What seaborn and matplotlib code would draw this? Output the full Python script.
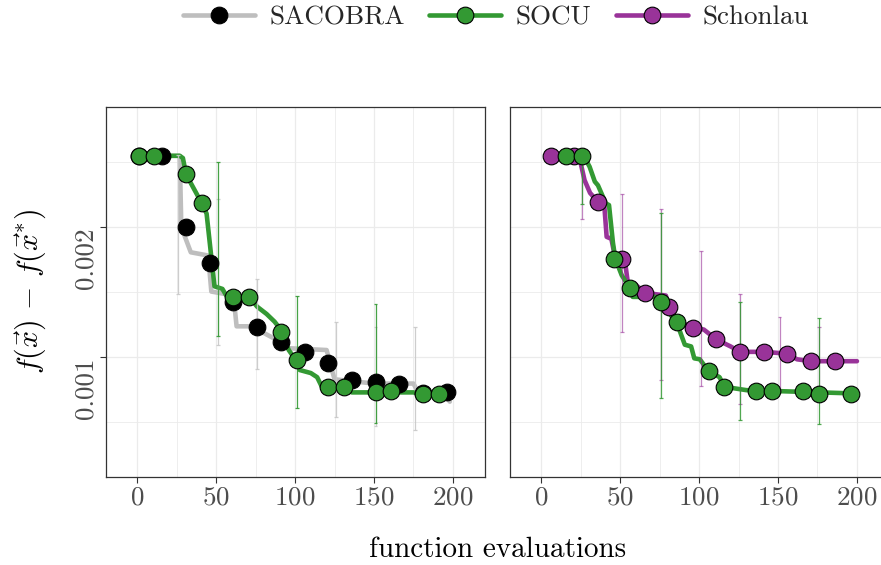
import numpy as np
import pandas as pd
import seaborn as sns
import matplotlib
matplotlib.use("Agg")
import matplotlib.pyplot as plt
from matplotlib.lines import Line2D
from matplotlib.ticker import FixedLocator, FixedFormatter, NullFormatter

# ---------------- data ----------------
# median progress curves (function evaluations vs. f(x) - f(x*))
sacobra_curve_x = [1, 27, 28, 34, 45, 47, 61, 63, 77, 80, 88, 96, 120, 125, 150, 175, 178, 195, 198]
sacobra_curve_y = [0.002925, 0.002925, 0.00200, 0.00175, 0.00172, 0.00142, 0.00139, 0.00118, 0.00118,
                   0.00114, 0.00110, 0.00105, 0.00104, 0.00089, 0.00087, 0.00087, 0.00083, 0.00082, 0.00079]

socu_curve_left_x = [1, 27, 29, 31, 34, 41, 44, 49, 54, 57, 71, 76, 82, 87, 91, 96, 101, 103, 110, 114,
                     117, 133, 136, 175, 178, 200]
socu_curve_left_y = [0.002925, 0.002925, 0.00289, 0.00265, 0.00253, 0.00227, 0.00215, 0.00146, 0.00144,
                     0.00138, 0.00138, 0.00131, 0.00126, 0.00121, 0.00116, 0.00104, 0.00098, 0.000935,
                     0.00092, 0.00090, 0.000855, 0.000855, 0.00083, 0.00083, 0.000825, 0.000825]

socu_curve_right_x = [16, 27, 30.7, 34, 36, 41, 43, 45.5, 47, 51, 56, 58, 73, 76, 86, 89, 91, 95, 97,
                      100.5, 106, 113, 116, 130, 200]
socu_curve_right_y = [0.002925, 0.002925, 0.00276, 0.00255, 0.00250, 0.00227, 0.00225, 0.00184, 0.00169,
                      0.00155, 0.00145, 0.00138, 0.00138, 0.00134, 0.00120, 0.00112, 0.00107, 0.00106,
                      0.000995, 0.00099, 0.00093, 0.00090, 0.000855, 0.00084, 0.000825]

schonlau_curve_x = [6, 24, 27.5, 31, 36, 40, 41.5, 44.5, 47, 53, 55, 60, 66, 79, 81, 86, 96, 103, 111,
                    120, 126, 141, 156, 162, 171, 200]
schonlau_curve_y = [0.002925, 0.002925, 0.00257, 0.00240, 0.00229, 0.00225, 0.00190, 0.00188, 0.00169,
                    0.00168, 0.00148, 0.00147, 0.00141, 0.00139, 0.00131, 0.00122, 0.00117, 0.00116,
                    0.00110, 0.00106, 0.00103, 0.00103, 0.00102, 0.00099, 0.00098, 0.00098]

# markers placed along the curves
sacobra_pts_x = [1, 16, 31, 46, 61, 76, 91, 106, 121, 136, 151, 166, 181, 196]
sacobra_pts_y = [0.002925, 0.002925, 0.00200, 0.001656, 0.001345, 0.001173, 0.001083, 0.00103,
                 0.000972, 0.000885, 0.000877, 0.00087, 0.000828, 0.000832]

socu_pts_left_x = [1, 11, 31, 41, 61, 71, 91, 101, 121, 131, 151, 161, 181, 191]
socu_pts_left_y = [0.002925, 0.002925, 0.002653, 0.002273, 0.001379, 0.001379, 0.001143, 0.000984,
                   0.000853, 0.000853, 0.000832, 0.000836, 0.000825, 0.000825]

socu_pts_right_x = [16, 26, 46, 56, 76, 86, 106, 116, 136, 146, 166, 176, 196]
socu_pts_right_y = [0.002925, 0.002925, 0.001686, 0.001449, 0.001341, 0.001205, 0.000931, 0.000855,
                    0.000834, 0.000834, 0.000834, 0.000825, 0.000825]

schonlau_pts_x = [6, 21, 36, 51, 66, 81, 96, 111, 126, 141, 156, 171, 186]
schonlau_pts_y = [0.002925, 0.002925, 0.002293, 0.001686, 0.001411, 0.00131, 0.001167, 0.001101,
                  0.00103, 0.001027, 0.001016, 0.000982, 0.000982]

# quartile ranges
sacobra_err_x = [26, 51, 76, 126, 151, 176]
sacobra_err_lo = [0.00140, 0.001066, 0.000938, 0.000727, 0.000693, 0.000678]
sacobra_err_hi = [0.00294, 0.002323, 0.001518, 0.001205, 0.001177, 0.001177]

socu_err_left_x = [51, 101, 151]
socu_err_left_lo = [0.001122, 0.000763, 0.000707]
socu_err_left_hi = [0.002829, 0.001389, 0.001331]

socu_err_right_x = [26, 76, 126, 176]
socu_err_right_lo = [0.002262, 0.000804, 0.000716, 0.000703]
socu_err_right_hi = [0.00286, 0.002155, 0.001343, 0.001235]

schonlau_err_x = [26, 51, 76, 101, 126, 151, 176]
schonlau_err_lo = [0.002092, 0.001144, 0.000886, 0.000861, 0.00078, 0.00084, 0.00085]
schonlau_err_hi = [0.00290, 0.002393, 0.002208, 0.001759, 0.001399, 0.001238, 0.001173]

series_names = ["SACOBRA", "SOCU", "Schonlau"]
x_ticks = [0, 50, 100, 150, 200]
y_ticks = [0.001, 0.002]
y_tick_labels = ["0.001", "0.002"]

# ---------------- style ----------------
sns.set_theme(style="white")
plt.rcParams["font.family"] = ["cmr10", "DejaVu Serif"]
plt.rcParams["mathtext.fontset"] = "cm"
plt.rcParams["axes.unicode_minus"] = False
plt.rcParams["axes.formatter.use_mathtext"] = True

GRAY_LINE = "#bebebe"
GREEN = "#339933"
PURPLE = "#993399"
TICK_TXT = "#4d4d4d"
GRID = "#ebebeb"

fig = plt.figure(figsize=(8.81, 5.65), dpi=100)
W, H = 881, 565
ax_l = fig.add_axes([106 / W, (H - 477) / H, 379 / W, 370 / H])
ax_r = fig.add_axes([510 / W, (H - 477) / H, 379 / W, 370 / H])

LW = 3.3
MS = 12


def draw_curve(ax, xs, ys, color):
    df = pd.DataFrame({"x": xs, "y": ys})
    sns.lineplot(data=df, x="x", y="y", ax=ax, color=color, lw=LW, sort=False,
                 estimator=None, zorder=2, legend=False)


def draw_points(ax, xs, ys, face):
    df = pd.DataFrame({"x": xs, "y": ys})
    sns.scatterplot(data=df, x="x", y="y", ax=ax, color=face, s=MS ** 2,
                    edgecolor="black", linewidth=0.8, zorder=4, legend=False)


def draw_err(ax, xs, lo, hi, color, alpha):
    xs = np.asarray(xs, float)
    lo = np.asarray(lo, float)
    hi = np.asarray(hi, float)
    ax.vlines(xs, lo, hi, color=color, lw=0.9, alpha=alpha, zorder=3)
    for yy in (lo, hi):
        ax.hlines(yy, xs - 1.2, xs + 1.2, color=color, lw=0.9, alpha=alpha, zorder=3)


# left panel: SACOBRA vs SOCU
draw_curve(ax_l, sacobra_curve_x, sacobra_curve_y, GRAY_LINE)
draw_curve(ax_l, socu_curve_left_x, socu_curve_left_y, GREEN)
draw_err(ax_l, sacobra_err_x, sacobra_err_lo, sacobra_err_hi, "#c8c8c8", 0.9)
draw_err(ax_l, socu_err_left_x, socu_err_left_lo, socu_err_left_hi, GREEN, 0.9)
draw_points(ax_l, sacobra_pts_x, sacobra_pts_y, "black")
draw_points(ax_l, socu_pts_left_x, socu_pts_left_y, GREEN)

# right panel: Schonlau vs SOCU
draw_curve(ax_r, schonlau_curve_x, schonlau_curve_y, PURPLE)
draw_curve(ax_r, socu_curve_right_x, socu_curve_right_y, GREEN)
draw_err(ax_r, schonlau_err_x, schonlau_err_lo, schonlau_err_hi, PURPLE, 0.6)
draw_err(ax_r, socu_err_right_x, socu_err_right_lo, socu_err_right_hi, GREEN, 0.85)
draw_points(ax_r, schonlau_pts_x, schonlau_pts_y, PURPLE)
draw_points(ax_r, socu_pts_right_x, socu_pts_right_y, GREEN)

y_minor = [0.001 / np.sqrt(2), 0.001 * np.sqrt(2), 0.002 * np.sqrt(2)]
for ax in (ax_l, ax_r):
    ax.set_yscale("log")
    ax.set_ylim(0.000529, 0.003793)
    ax.set_xlim(-19.7, 220.3)
    ax.xaxis.set_major_locator(FixedLocator(x_ticks))
    ax.xaxis.set_minor_locator(FixedLocator([25, 75, 125, 175]))
    ax.xaxis.set_minor_formatter(NullFormatter())
    ax.yaxis.set_major_locator(FixedLocator(y_ticks))
    ax.yaxis.set_major_formatter(FixedFormatter(y_tick_labels))
    ax.yaxis.set_minor_locator(FixedLocator(y_minor))
    ax.yaxis.set_minor_formatter(NullFormatter())
    ax.grid(True, which="major", color=GRID, lw=0.9, zorder=0)
    ax.grid(True, which="minor", color=GRID, lw=0.6, zorder=0)
    ax.set_axisbelow(True)
    ax.tick_params(which="minor", length=0)
    ax.tick_params(which="major", length=4, width=0.8, color="#333333",
                   labelsize=19.5, labelcolor=TICK_TXT, pad=2)
    ax.tick_params(axis="x", bottom=True)
    for sp in ax.spines.values():
        sp.set_color("#333333")
        sp.set_linewidth(0.9)
    ax.set_xlabel("")
    ax.set_ylabel("")

ax_l.tick_params(axis="y", left=True)
for lab in ax_l.get_yticklabels():
    lab.set_rotation(90)
    lab.set_va("top")
ax_r.tick_params(axis="y", left=False, labelleft=False)

fig.text(497.5 / W, 1 - 550 / H, "function evaluations", ha="center", va="center",
         fontsize=21, color="black")
fig.text(30 / W, 1 - 292 / H, r"$f(\vec{x})\,-\,f(\vec{x}^{*})$", rotation=90,
         ha="center", va="center", fontsize=21.5, color="black")

handles = [
    Line2D([], [], color=GRAY_LINE, lw=LW, marker="o", markersize=MS,
           markerfacecolor="black", markeredgecolor="black", markeredgewidth=0.8),
    Line2D([], [], color=GREEN, lw=LW, marker="o", markersize=MS,
           markerfacecolor=GREEN, markeredgecolor="black", markeredgewidth=0.8),
    Line2D([], [], color=PURPLE, lw=LW, marker="o", markersize=MS,
           markerfacecolor=PURPLE, markeredgecolor="black", markeredgewidth=0.8),
]
fig.legend(handles, series_names, loc="center", bbox_to_anchor=(496 / W, 1 - 18 / H),
           ncol=3, frameon=False, fontsize=19.5, handlelength=2.65, handletextpad=0.55,
           columnspacing=0.9, borderaxespad=0)

fig.savefig("out.png", dpi=100)
